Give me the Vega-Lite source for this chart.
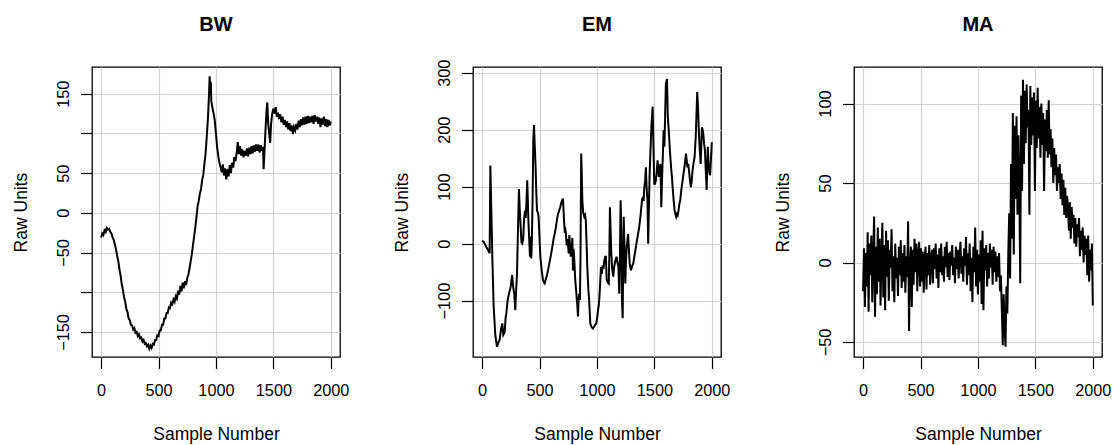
{
"$schema":"https://vega.github.io/schema/vega-lite/v6.json",
"padding":{"left":11,"top":14,"right":5,"bottom":5},
"spacing":133,
"bounds":"flush",
"config":{
 "font":"Liberation Sans",
 "view":{"stroke":"black","strokeWidth":1.3},
 "title":{"fontSize":20,"fontWeight":"bold","font":"Liberation Sans","color":"black","offset":32},
 "axis":{"domain":false,"format":"d","tickColor":"black","tickSize":11.5,"tickWidth":1.2,"labelFont":"Liberation Sans","labelFontSize":16.3,"labelColor":"black","titleFont":"Liberation Sans","titleFontSize":17.5,"titleFontWeight":"normal","titleColor":"black","gridColor":"#d3d3d3","gridWidth":1.2,"labelOverlap":false,"labelFlush":false},
 "axisX":{"labelPadding":14,"titlePadding":27},
 "axisY":{"labelAngle":-90,"labelAlign":"center","labelBaseline":"alphabetic","labelPadding":12,"titlePadding":25}
},
"hconcat":[
{
"width":248,"height":290,
"title":"BW",
"data":{"values":[
{"x":0,"y":-31},{"x":10,"y":-26},{"x":20,"y":-28},{"x":30,"y":-22},{"x":40,"y":-24},{"x":50,"y":-19},{"x":60,"y":-21},{"x":70,"y":-20},{"x":80,"y":-24},{"x":90,"y":-26},
{"x":100,"y":-31},{"x":110,"y":-34},{"x":120,"y":-40},{"x":130,"y":-46},{"x":140,"y":-54},{"x":150,"y":-61},{"x":160,"y":-71},{"x":170,"y":-79},{"x":180,"y":-90},{"x":190,"y":-97},
{"x":200,"y":-106},{"x":210,"y":-112},{"x":220,"y":-121},{"x":230,"y":-125},{"x":240,"y":-133},{"x":250,"y":-135},{"x":260,"y":-141},{"x":270,"y":-142},{"x":280,"y":-147},{"x":290,"y":-145},
{"x":300,"y":-151},{"x":310,"y":-150},{"x":320,"y":-155},{"x":330,"y":-153},{"x":340,"y":-158},{"x":350,"y":-157},{"x":360,"y":-162},{"x":370,"y":-160},{"x":380,"y":-165},{"x":390,"y":-164},
{"x":400,"y":-168},{"x":410,"y":-166},{"x":420,"y":-171},{"x":430,"y":-167},{"x":440,"y":-170},{"x":450,"y":-165},{"x":460,"y":-166},{"x":470,"y":-160},{"x":480,"y":-160},{"x":490,"y":-154},
{"x":500,"y":-155},{"x":510,"y":-148},{"x":520,"y":-148},{"x":530,"y":-141},{"x":540,"y":-141},{"x":550,"y":-133},{"x":560,"y":-133},{"x":570,"y":-126},{"x":580,"y":-126},{"x":590,"y":-119},
{"x":600,"y":-120},{"x":610,"y":-113},{"x":620,"y":-115},{"x":630,"y":-109},{"x":640,"y":-112},{"x":650,"y":-105},{"x":660,"y":-108},{"x":670,"y":-98},{"x":680,"y":-103},{"x":690,"y":-92},
{"x":700,"y":-99},{"x":710,"y":-88},{"x":720,"y":-95},{"x":730,"y":-86},{"x":740,"y":-91},{"x":750,"y":-82},{"x":760,"y":-78},{"x":770,"y":-70},{"x":780,"y":-61},{"x":790,"y":-52},
{"x":800,"y":-41},{"x":810,"y":-30},{"x":820,"y":-19},{"x":830,"y":-6},{"x":840,"y":8},{"x":850,"y":15},{"x":860,"y":24},{"x":870,"y":30},{"x":880,"y":41},{"x":890,"y":48},
{"x":900,"y":62},{"x":910,"y":75},{"x":920,"y":96},{"x":930,"y":118},{"x":940,"y":150},{"x":945,"y":172},{"x":950,"y":160},{"x":955,"y":165},{"x":960,"y":140},{"x":970,"y":132},
{"x":980,"y":125},{"x":990,"y":116},{"x":1000,"y":100},{"x":1010,"y":83},{"x":1020,"y":72},{"x":1030,"y":63},{"x":1040,"y":58},{"x":1050,"y":51},{"x":1060,"y":61},{"x":1070,"y":47},
{"x":1080,"y":56},{"x":1090,"y":42},{"x":1100,"y":55},{"x":1110,"y":46},{"x":1120,"y":60},{"x":1130,"y":50},{"x":1140,"y":63},{"x":1150,"y":57},{"x":1160,"y":70},{"x":1170,"y":65},
{"x":1180,"y":75},{"x":1190,"y":89},{"x":1200,"y":74},{"x":1210,"y":84},{"x":1220,"y":72},{"x":1230,"y":80},{"x":1240,"y":70},{"x":1250,"y":78},{"x":1260,"y":72},{"x":1270,"y":81},
{"x":1280,"y":71},{"x":1290,"y":82},{"x":1300,"y":74},{"x":1310,"y":84},{"x":1320,"y":75},{"x":1330,"y":85},{"x":1340,"y":77},{"x":1350,"y":86},{"x":1360,"y":78},{"x":1370,"y":86},
{"x":1380,"y":76},{"x":1390,"y":85},{"x":1400,"y":78},{"x":1410,"y":83},{"x":1415,"y":55},{"x":1420,"y":70},{"x":1430,"y":100},{"x":1440,"y":128},{"x":1447,"y":139},{"x":1455,"y":112},
{"x":1465,"y":98},{"x":1472,"y":88},{"x":1480,"y":112},{"x":1490,"y":125},{"x":1500,"y":131},{"x":1510,"y":125},{"x":1520,"y":133},{"x":1530,"y":121},{"x":1540,"y":126},{"x":1550,"y":118},
{"x":1560,"y":124},{"x":1570,"y":114},{"x":1580,"y":121},{"x":1590,"y":111},{"x":1600,"y":117},{"x":1610,"y":108},{"x":1620,"y":115},{"x":1630,"y":105},{"x":1640,"y":113},{"x":1650,"y":103},
{"x":1660,"y":110},{"x":1670,"y":99},{"x":1680,"y":108},{"x":1690,"y":104},{"x":1700,"y":112},{"x":1710,"y":105},{"x":1720,"y":116},{"x":1730,"y":108},{"x":1740,"y":118},{"x":1750,"y":110},
{"x":1760,"y":120},{"x":1770,"y":111},{"x":1780,"y":121},{"x":1790,"y":112},{"x":1800,"y":122},{"x":1810,"y":113},{"x":1820,"y":121},{"x":1830,"y":114},{"x":1840,"y":122},{"x":1850,"y":112},
{"x":1860,"y":123},{"x":1870,"y":115},{"x":1880,"y":121},{"x":1890,"y":112},{"x":1900,"y":120},{"x":1910,"y":108},{"x":1920,"y":119},{"x":1930,"y":111},{"x":1940,"y":121},{"x":1950,"y":109},
{"x":1960,"y":118},{"x":1970,"y":108},{"x":1980,"y":117},{"x":1990,"y":110},{"x":2000,"y":115}
]},
"mark":{"type":"line","color":"black","strokeWidth":2},
"encoding":{
 "x":{"field":"x","type":"quantitative","scale":{"domain":[-79,2080],"nice":false,"zero":false},"axis":{"values":[0,500,1000,1500,2000],"title":"Sample Number"}},
 "y":{"field":"y","type":"quantitative","scale":{"domain":[-181.5,183.6],"nice":false,"zero":false},"axis":{"values":[-150,-100,-50,0,50,100,150],"labelExpr":"abs(datum.value)==100 ? '' : datum.label","title":"Raw Units"}}
}
},
{
"width":248,"height":290,
"title":{"text":"EM","offset":24},
"data":{"values":[
{"x":0,"y":5},{"x":15,"y":3},{"x":37,"y":-6},{"x":55,"y":-12},{"x":66,"y":-17},{"x":72,"y":137},{"x":80,"y":64},{"x":90,"y":-30},{"x":101,"y":-111},{"x":115,"y":-160},
{"x":130,"y":-181},{"x":145,"y":-172},{"x":153,"y":-169},{"x":165,"y":-150},{"x":176,"y":-140},{"x":185,"y":-160},{"x":197,"y":-155},{"x":205,"y":-130},{"x":211,"y":-123},{"x":222,"y":-100},
{"x":234,"y":-88},{"x":249,"y":-76},{"x":255,"y":-66},{"x":262,"y":-55},{"x":270,"y":-75},{"x":280,"y":-88},{"x":289,"y":-117},{"x":297,"y":-80},{"x":304,"y":-53},{"x":312,"y":20},
{"x":321,"y":96},{"x":328,"y":60},{"x":336,"y":29},{"x":343,"y":2},{"x":350,"y":0},{"x":358,"y":8},{"x":365,"y":40},{"x":373,"y":58},{"x":380,"y":45},{"x":386,"y":70},
{"x":393,"y":111},{"x":398,"y":80},{"x":403,"y":41},{"x":410,"y":10},{"x":417,"y":-23},{"x":422,"y":12},{"x":428,"y":-26},{"x":433,"y":0},{"x":440,"y":80},{"x":446,"y":180},
{"x":452,"y":208},{"x":459,"y":170},{"x":466,"y":134},{"x":472,"y":90},{"x":478,"y":58},{"x":485,"y":55},{"x":492,"y":47},{"x":500,"y":10},{"x":507,"y":-23},{"x":518,"y":-45},
{"x":530,"y":-64},{"x":538,"y":-68},{"x":545,"y":-70},{"x":555,"y":-62},{"x":565,"y":-55},{"x":574,"y":-47},{"x":585,"y":-35},{"x":595,"y":-25},{"x":602,"y":-17},{"x":612,"y":-5},
{"x":622,"y":8},{"x":632,"y":17},{"x":642,"y":28},{"x":652,"y":42},{"x":661,"y":52},{"x":670,"y":57},{"x":680,"y":64},{"x":690,"y":72},{"x":697,"y":76},{"x":704,"y":79},
{"x":710,"y":55},{"x":715,"y":35},{"x":719,"y":23},{"x":725,"y":25},{"x":730,"y":17},{"x":737,"y":-3},{"x":745,"y":8},{"x":754,"y":-17},{"x":760,"y":15},{"x":766,"y":-5},
{"x":772,"y":-23},{"x":780,"y":-10},{"x":786,"y":10},{"x":791,"y":-47},{"x":797,"y":-9},{"x":803,"y":-30},{"x":811,"y":-64},{"x":818,"y":-80},{"x":825,"y":-99},{"x":830,"y":-110},
{"x":835,"y":-128},{"x":840,"y":-100},{"x":845,"y":-88},{"x":852,"y":-99},{"x":857,"y":-20},{"x":863,"y":158},{"x":868,"y":120},{"x":873,"y":76},{"x":880,"y":55},{"x":890,"y":47},
{"x":897,"y":50},{"x":903,"y":41},{"x":910,"y":0},{"x":916,"y":-41},{"x":925,"y":-80},{"x":932,"y":-99},{"x":942,"y":-140},{"x":952,"y":-146},{"x":965,"y":-149},{"x":975,"y":-146},
{"x":985,"y":-142},{"x":994,"y":-140},{"x":1002,"y":-130},{"x":1009,"y":-117},{"x":1015,"y":-110},{"x":1020,"y":-99},{"x":1028,"y":-70},{"x":1035,"y":-41},{"x":1042,"y":-53},{"x":1050,"y":-38},
{"x":1058,"y":-44},{"x":1064,"y":-30},{"x":1072,"y":-23},{"x":1078,"y":-23},{"x":1085,"y":-64},{"x":1095,"y":-68},{"x":1103,"y":-70},{"x":1108,"y":-20},{"x":1113,"y":64},{"x":1118,"y":30},
{"x":1125,"y":-17},{"x":1133,"y":-45},{"x":1142,"y":-58},{"x":1150,"y":-41},{"x":1160,"y":-30},{"x":1171,"y":-23},{"x":1180,"y":-35},{"x":1187,"y":-41},{"x":1194,"y":-88},{"x":1200,"y":-20},
{"x":1206,"y":76},{"x":1212,"y":20},{"x":1218,"y":-99},{"x":1224,"y":-131},{"x":1228,"y":-50},{"x":1233,"y":47},{"x":1240,"y":-10},{"x":1247,"y":-70},{"x":1253,"y":-30},{"x":1259,"y":-6},
{"x":1265,"y":5},{"x":1271,"y":17},{"x":1278,"y":-10},{"x":1285,"y":-35},{"x":1296,"y":-47},{"x":1305,"y":-40},{"x":1316,"y":-35},{"x":1328,"y":-20},{"x":1339,"y":-6},{"x":1352,"y":10},
{"x":1368,"y":29},{"x":1380,"y":50},{"x":1392,"y":76},{"x":1400,"y":82},{"x":1406,"y":75},{"x":1413,"y":100},{"x":1420,"y":111},{"x":1426,"y":134},{"x":1432,"y":100},{"x":1440,"y":76},
{"x":1446,"y":0},{"x":1452,"y":60},{"x":1458,"y":117},{"x":1466,"y":164},{"x":1475,"y":210},{"x":1485,"y":240},{"x":1492,"y":170},{"x":1499,"y":105},{"x":1506,"y":105},{"x":1513,"y":111},
{"x":1520,"y":125},{"x":1528,"y":146},{"x":1534,"y":130},{"x":1540,"y":117},{"x":1546,"y":128},{"x":1552,"y":140},{"x":1556,"y":110},{"x":1560,"y":64},{"x":1565,"y":100},{"x":1570,"y":134},
{"x":1575,"y":160},{"x":1580,"y":199},{"x":1587,"y":170},{"x":1593,"y":220},{"x":1600,"y":280},{"x":1610,"y":289},{"x":1617,"y":222},{"x":1625,"y":200},{"x":1635,"y":164},{"x":1645,"y":135},
{"x":1653,"y":117},{"x":1660,"y":96},{"x":1668,"y":76},{"x":1675,"y":60},{"x":1682,"y":53},{"x":1690,"y":47},{"x":1697,"y":52},{"x":1703,"y":50},{"x":1710,"y":58},{"x":1718,"y":70},
{"x":1725,"y":76},{"x":1735,"y":95},{"x":1746,"y":111},{"x":1755,"y":125},{"x":1762,"y":134},{"x":1768,"y":145},{"x":1775,"y":158},{"x":1782,"y":145},{"x":1788,"y":134},{"x":1795,"y":140},
{"x":1803,"y":125},{"x":1810,"y":110},{"x":1818,"y":99},{"x":1825,"y":110},{"x":1832,"y":128},{"x":1840,"y":140},{"x":1850,"y":152},{"x":1860,"y":187},{"x":1873,"y":266},{"x":1880,"y":240},
{"x":1888,"y":193},{"x":1895,"y":165},{"x":1903,"y":140},{"x":1908,"y":170},{"x":1914,"y":204},{"x":1920,"y":200},{"x":1926,"y":193},{"x":1933,"y":175},{"x":1940,"y":164},{"x":1947,"y":130},
{"x":1955,"y":94},{"x":1960,"y":135},{"x":1965,"y":170},{"x":1972,"y":140},{"x":1980,"y":123},{"x":1985,"y":120},{"x":1993,"y":150},{"x":2000,"y":178}
]},
"mark":{"type":"line","color":"black","strokeWidth":2},
"encoding":{
 "x":{"field":"x","type":"quantitative","scale":{"domain":[-79,2080],"nice":false,"zero":false},"axis":{"values":[0,500,1000,1500,2000],"title":"Sample Number"}},
 "y":{"field":"y","type":"quantitative","scale":{"domain":[-199,310],"nice":false,"zero":false},"axis":{"values":[-200,-100,0,100,200,300],"title":"Raw Units"}}
}
},
{
"width":248,"height":290,
"title":"MA",
"data":{"values":[
{"x":0,"y":-18},{"x":8,"y":9},{"x":16,"y":-28},{"x":24,"y":6},{"x":32,"y":-15},{"x":40,"y":19},{"x":48,"y":-31},{"x":56,"y":12},{"x":64,"y":-8},{"x":72,"y":17},
{"x":80,"y":-25},{"x":88,"y":3},{"x":96,"y":29},{"x":104,"y":-34},{"x":112,"y":10},{"x":120,"y":-20},{"x":128,"y":22},{"x":136,"y":-12},{"x":144,"y":15},{"x":152,"y":-27},
{"x":160,"y":5},{"x":168,"y":25},{"x":176,"y":-22},{"x":184,"y":11},{"x":192,"y":-30},{"x":200,"y":20},{"x":208,"y":-9},{"x":216,"y":14},{"x":224,"y":-24},{"x":232,"y":8},
{"x":240,"y":-3},{"x":248,"y":21},{"x":256,"y":-18},{"x":264,"y":4},{"x":272,"y":-25},{"x":280,"y":12},{"x":288,"y":-10},{"x":296,"y":3},{"x":304,"y":-21},{"x":312,"y":10},
{"x":320,"y":-8},{"x":328,"y":14},{"x":336,"y":-16},{"x":344,"y":6},{"x":352,"y":-12},{"x":360,"y":11},{"x":368,"y":-19},{"x":376,"y":4},{"x":384,"y":-9},{"x":392,"y":26},
{"x":400,"y":-43},{"x":408,"y":-5},{"x":416,"y":10},{"x":424,"y":-28},{"x":432,"y":8},{"x":440,"y":-14},{"x":448,"y":15},{"x":456,"y":-6},{"x":464,"y":12},{"x":472,"y":-18},
{"x":480,"y":5},{"x":488,"y":13},{"x":496,"y":-15},{"x":504,"y":9},{"x":512,"y":-12},{"x":520,"y":7},{"x":528,"y":-19},{"x":536,"y":3},{"x":544,"y":10},{"x":552,"y":-17},
{"x":560,"y":6},{"x":568,"y":-8},{"x":576,"y":11},{"x":584,"y":-14},{"x":592,"y":2},{"x":600,"y":8},{"x":608,"y":-13},{"x":616,"y":9},{"x":624,"y":-4},{"x":632,"y":12},
{"x":640,"y":-10},{"x":648,"y":5},{"x":656,"y":-16},{"x":664,"y":9},{"x":672,"y":-6},{"x":680,"y":12},{"x":688,"y":-8},{"x":696,"y":4},{"x":704,"y":-12},{"x":712,"y":10},
{"x":720,"y":-3},{"x":728,"y":13},{"x":736,"y":-9},{"x":744,"y":6},{"x":752,"y":-11},{"x":760,"y":7},{"x":768,"y":-2},{"x":776,"y":11},{"x":784,"y":-8},{"x":792,"y":3},
{"x":800,"y":-13},{"x":808,"y":10},{"x":816,"y":-4},{"x":824,"y":8},{"x":832,"y":-10},{"x":840,"y":5},{"x":848,"y":13},{"x":856,"y":-7},{"x":864,"y":4},{"x":872,"y":-12},
{"x":880,"y":9},{"x":888,"y":-2},{"x":896,"y":16},{"x":904,"y":-14},{"x":912,"y":6},{"x":920,"y":-8},{"x":928,"y":12},{"x":936,"y":-18},{"x":944,"y":3},{"x":952,"y":-25},
{"x":960,"y":10},{"x":968,"y":-6},{"x":976,"y":22},{"x":984,"y":-15},{"x":992,"y":8},{"x":1000,"y":-20},{"x":1008,"y":5},{"x":1016,"y":-12},{"x":1024,"y":14},{"x":1032,"y":-26},
{"x":1040,"y":20},{"x":1048,"y":-30},{"x":1056,"y":9},{"x":1064,"y":-5},{"x":1072,"y":11},{"x":1080,"y":-15},{"x":1088,"y":6},{"x":1096,"y":-10},{"x":1104,"y":12},{"x":1112,"y":-3},
{"x":1120,"y":8},{"x":1128,"y":-14},{"x":1136,"y":10},{"x":1144,"y":-6},{"x":1152,"y":7},{"x":1160,"y":-12},{"x":1168,"y":4},{"x":1176,"y":-9},{"x":1184,"y":6},{"x":1192,"y":-18},
{"x":1200,"y":-8},{"x":1208,"y":-30},{"x":1216,"y":-52},{"x":1224,"y":-20},{"x":1232,"y":-40},{"x":1240,"y":-53},{"x":1248,"y":-15},{"x":1256,"y":-32},{"x":1264,"y":5},{"x":1272,"y":31},
{"x":1280,"y":-10},{"x":1288,"y":62},{"x":1296,"y":15},{"x":1304,"y":94},{"x":1312,"y":5},{"x":1320,"y":86},{"x":1328,"y":40},{"x":1336,"y":92},{"x":1344,"y":30},{"x":1352,"y":80},
{"x":1360,"y":50},{"x":1368,"y":-13},{"x":1376,"y":105},{"x":1384,"y":45},{"x":1392,"y":115},{"x":1400,"y":62},{"x":1408,"y":108},{"x":1416,"y":75},{"x":1424,"y":112},{"x":1432,"y":85},
{"x":1440,"y":96},{"x":1448,"y":30},{"x":1456,"y":111},{"x":1464,"y":74},{"x":1472,"y":104},{"x":1480,"y":80},{"x":1488,"y":107},{"x":1496,"y":45},{"x":1504,"y":102},{"x":1512,"y":72},
{"x":1520,"y":110},{"x":1528,"y":78},{"x":1536,"y":98},{"x":1544,"y":66},{"x":1552,"y":100},{"x":1560,"y":74},{"x":1568,"y":94},{"x":1576,"y":45},{"x":1584,"y":90},{"x":1592,"y":70},
{"x":1600,"y":96},{"x":1608,"y":66},{"x":1616,"y":102},{"x":1624,"y":68},{"x":1632,"y":84},{"x":1640,"y":60},{"x":1648,"y":78},{"x":1656,"y":50},{"x":1664,"y":72},{"x":1672,"y":55},
{"x":1680,"y":68},{"x":1688,"y":45},{"x":1696,"y":60},{"x":1704,"y":50},{"x":1712,"y":62},{"x":1720,"y":40},{"x":1728,"y":56},{"x":1736,"y":36},{"x":1744,"y":52},{"x":1752,"y":30},
{"x":1760,"y":47},{"x":1768,"y":28},{"x":1776,"y":42},{"x":1784,"y":35},{"x":1792,"y":20},{"x":1800,"y":38},{"x":1808,"y":15},{"x":1816,"y":35},{"x":1824,"y":22},{"x":1832,"y":30},
{"x":1840,"y":12},{"x":1848,"y":28},{"x":1856,"y":10},{"x":1864,"y":24},{"x":1872,"y":16},{"x":1880,"y":28},{"x":1888,"y":4},{"x":1896,"y":20},{"x":1904,"y":8},{"x":1912,"y":22},
{"x":1920,"y":0},{"x":1928,"y":17},{"x":1936,"y":5},{"x":1944,"y":15},{"x":1952,"y":-8},{"x":1960,"y":17},{"x":1968,"y":-12},{"x":1976,"y":8},{"x":1984,"y":-5},{"x":1992,"y":12},
{"x":2000,"y":-27}
]},
"mark":{"type":"line","color":"black","strokeWidth":2},
"encoding":{
 "x":{"field":"x","type":"quantitative","scale":{"domain":[-79,2080],"nice":false,"zero":false},"axis":{"values":[0,500,1000,1500,2000],"title":"Sample Number"}},
 "y":{"field":"y","type":"quantitative","scale":{"domain":[-59.4,123],"nice":false,"zero":false},"axis":{"values":[-50,0,50,100],"title":"Raw Units"}}
}
}
]
}
